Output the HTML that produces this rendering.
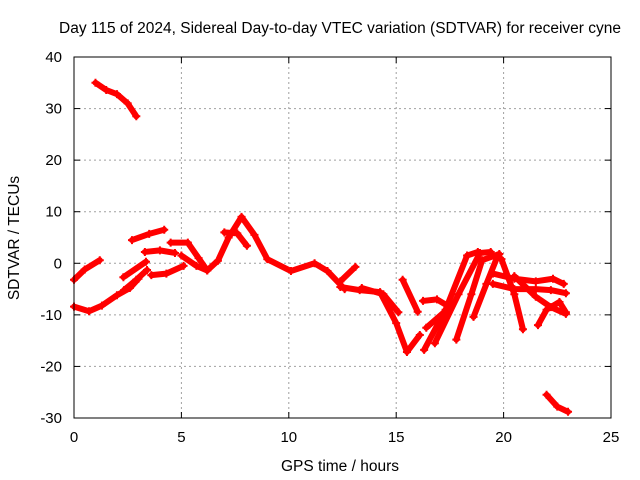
<!DOCTYPE html>
<html><head><meta charset="utf-8"><style>
body{margin:0;background:#fff}
svg{display:block;font-family:"Liberation Sans",sans-serif;font-size:15px}
</style></head><body>
<svg id="chart" width="640" height="480" viewBox="0 0 640 480">
<text x="340" y="33" text-anchor="middle" font-size="15.5" fill="#000">Day 115 of 2024, Sidereal Day-to-day VTEC variation (SDTVAR) for receiver cyne</text>
<text x="340" y="471" text-anchor="middle" font-size="15.5">GPS time / hours</text>
<text transform="translate(19,238) rotate(-90)" text-anchor="middle" font-size="15.5">SDTVAR / TECUs</text>
<g id="grid"></g><g id="ticks"></g><g id="marks"></g>
<rect x="74" y="57" width="537" height="361" fill="none" stroke="#000" stroke-width="1"/>
</svg>
<script>
const xTicks=[0,5,10,15,20,25];
const yTicks=[-30,-20,-10,0,10,20,30,40];
const track1=[[1.0,35],[1.5,33.6],[2.0,32.8],[2.5,31],[2.9,28.5]];
const track2=[[0,-8.4],[0.7,-9.3],[1.3,-8.2],[2.0,-6.2],[2.6,-4.8],[3.0,-3.0]];
const track3=[[0,-3.2],[0.5,-1.2],[1.2,0.6]];
const track4=[[2.33,-5.2],[2.9,-3.2],[3.4,-1.3]];
const track5=[[3.6,-2.3],[4.3,-2.0],[5.1,-0.5]];
const track6=[[2.7,4.5],[3.5,5.7],[4.2,6.5]];
const track7=[[3.3,2.2],[4.0,2.5],[4.7,2.0]];
const track8=[[2.3,-2.7],[3.35,0.3]];
const track9=[[4.5,4],[5.3,4],[5.8,1.0],[6.2,-1.4]];
const track10=[[5.0,1.5],[5.7,-0.5],[6.2,-1.4],[6.7,0.5],[7.2,5],[7.8,9.0],[8.4,5.5],[9.0,0.8],[10.1,-1.5],[11.2,0.0],[11.8,-1.5],[12.6,-5.0]];
const track11=[[7.0,6.0],[7.6,5.8],[8.05,3.4]];
const track12=[[12.4,-3.5],[13.1,-0.7]];
const track13=[[12.4,-4.6],[13.3,-5.2],[14.25,-5.6],[15.0,-11.6],[15.5,-17.2],[16.1,-13.9]];
const track14=[[15.3,-3.2],[16.0,-9.4]];
const track15=[[13.4,-4.8],[14.4,-6.0],[15.1,-9.5]];
const track16=[[16.25,-7.3],[16.9,-7.0],[17.5,-8.5],[16.4,-12.5]];
const track17=[[16.3,-16.8],[17.3,-9],[18.3,1.5],[18.8,2.2]];
const track18=[[16.8,-15.5],[17.9,-6],[18.9,2.0],[19.4,2.2]];
const track19=[[17.8,-14.8],[18.5,-6],[19.0,0.6],[19.8,1.8]];
const track20=[[18.6,-10.4],[19.2,-4],[19.7,1.2]];
const track21=[[19.9,0.8],[20.5,-6],[20.9,-12.8]];
const track22=[[19.5,-2.0],[20.5,-3.0],[21.5,-3.5],[22.3,-3.0],[22.8,-4.0]];
const track23=[[19.5,-4.0],[20.5,-5.0],[21.5,-5.0],[22.2,-5.2],[22.9,-5.8]];
const track24=[[20.5,-2.5],[21.5,-6.5],[22.2,-8.5],[22.9,-9.8]];
const track25=[[21.6,-12],[22.0,-9],[22.6,-7.5],[22.9,-9.5]];
const track26=[[22.0,-25.5],[22.5,-27.8],[23.0,-28.8]];
const tracks=[track1,track2,track3,track4,track5,track6,track7,track8,track9,track10,track11,track12,track13,track14,track15,track16,track17,track18,track19,track20,track21,track22,track23,track24,track25,track26];
const X0=74,X1=611,Y0=418,Y1=57;
const xs=v=>X0+(v-0)/25*(X1-X0);
const ys=v=>Y0-(v+30)/70*(Y0-Y1);
const NS="http://www.w3.org/2000/svg";
function mk(t,a,p){const e=document.createElementNS(NS,t);for(const k in a)e.setAttribute(k,a[k]);p.appendChild(e);return e;}
const grid=document.getElementById('grid'),ticks=document.getElementById('ticks'),marks=document.getElementById('marks');
xTicks.forEach(t=>{const x=xs(t);
 if(t>0&&t<25){const g=mk('line',{x1:x,x2:x,y1:Y1,y2:Y0,stroke:'#a0a0a0','stroke-dasharray':'2,3'},grid);
 }
 mk('line',{x1:x,x2:x,y1:Y0,y2:Y0-6,stroke:'#000'},ticks);mk('line',{x1:x,x2:x,y1:Y1,y2:Y1+6,stroke:'#000'},ticks);
 const l=mk('text',{x:x,y:Y0+24,'text-anchor':'middle'},ticks);l.textContent=t;
 });
yTicks.forEach(t=>{const y=ys(t);
 if(t>-30&&t<40){const g=mk('line',{x1:X0,x2:X1,y1:y,y2:y,stroke:'#a0a0a0','stroke-dasharray':'2,3'},grid);
 }
 mk('line',{x1:X0,x2:X0+6,y1:y,y2:y,stroke:'#000'},ticks);mk('line',{x1:X1,x2:X1-6,y1:y,y2:y,stroke:'#000'},ticks);
 const l=mk('text',{x:X0-12,y:y+5,'text-anchor':'end'},ticks);l.textContent=t;
 });
tracks.forEach(tr=>{
 const pl=mk('polyline',{points:tr.map(p=>xs(p[0])+','+ys(p[1])).join(' '),fill:'none',stroke:'#f00','stroke-width':6,'stroke-linejoin':'round','stroke-linecap':'round'},marks);
 
 
 tr.forEach(p=>{const x=xs(p[0]),y=ys(p[1]);
  const m=mk('path',{d:`M${x-4},${y}H${x+4}M${x},${y-4}V${y+4}`,stroke:'#f00','stroke-width':2},marks);
  
  });
});
</script>
</body></html>
